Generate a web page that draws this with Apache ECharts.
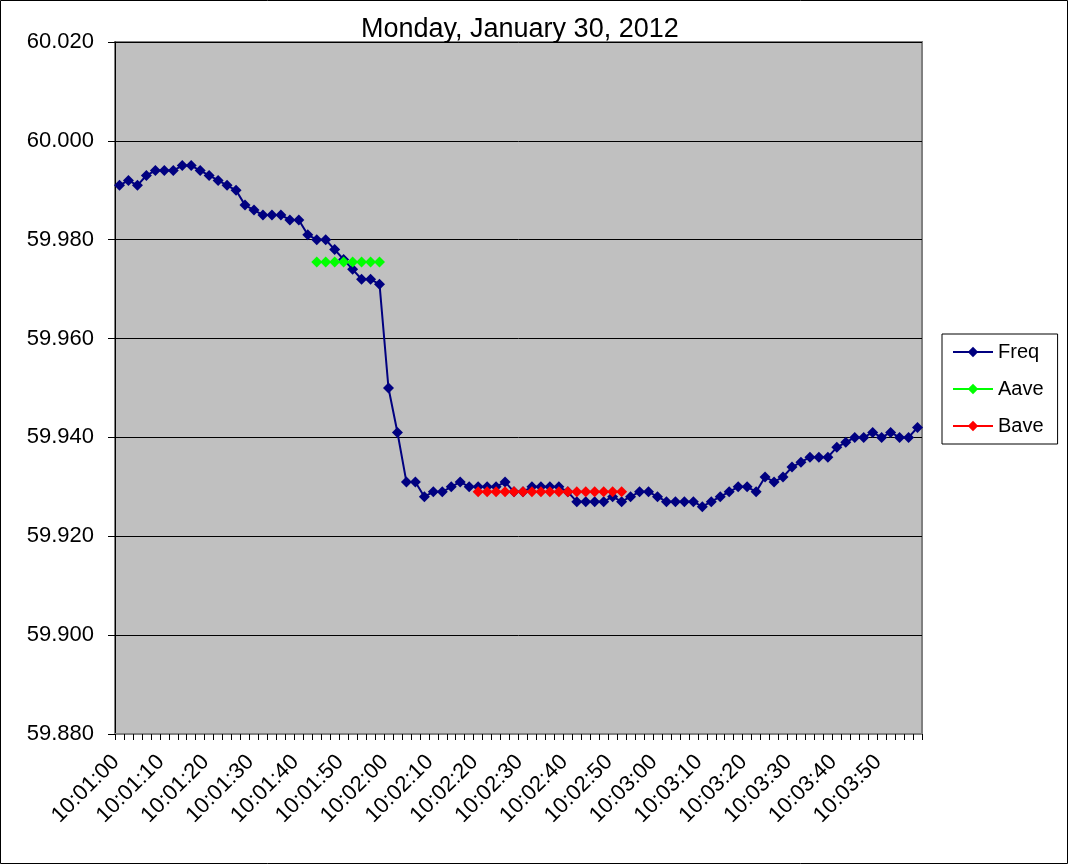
<!DOCTYPE html>
<html>
<head>
<meta charset="utf-8">
<script src="https://cdn.jsdelivr.net/npm/echarts@6/dist/echarts.min.js"></script>
<style>
html,body{margin:0;padding:0;background:#fff;}
#chart{width:1069px;height:865px;}
</style>
</head>
<body>
<div id="chart"></div>
<script>
// ---- data ----
const titleText = 'Monday, January 30, 2012';
const startTime = '10:01:00';
const stepSeconds = 2;
const pointCount = 90;

const freq = [
  59.991, 59.992, 59.991, 59.993, 59.994, 59.994, 59.994, 59.995, 59.995, 59.994,
  59.993, 59.992, 59.991, 59.990, 59.987, 59.986, 59.985, 59.985, 59.985, 59.984,
  59.984, 59.981, 59.980, 59.980, 59.978, 59.976, 59.974, 59.972, 59.972, 59.971,
  59.950, 59.941, 59.931, 59.931, 59.928, 59.929, 59.929, 59.930, 59.931, 59.930,
  59.930, 59.930, 59.930, 59.931, 59.929, 59.929, 59.930, 59.930, 59.930, 59.930,
  59.929, 59.927, 59.927, 59.927, 59.927, 59.928, 59.927, 59.928, 59.929, 59.929,
  59.928, 59.927, 59.927, 59.927, 59.927, 59.926, 59.927, 59.928, 59.929, 59.930,
  59.930, 59.929, 59.932, 59.931, 59.932, 59.934, 59.935, 59.936, 59.936, 59.936,
  59.938, 59.939, 59.940, 59.940, 59.941, 59.940, 59.941, 59.940, 59.940, 59.942
];
// Aave: indices 22..29
const aaveStart = 22;
const aaveValues = [59.9755, 59.9755, 59.9755, 59.9755, 59.9755, 59.9755, 59.9755, 59.9755];
// Bave: indices 40..56
const baveStart = 40;
const baveValues = [59.929, 59.929, 59.929, 59.929, 59.929, 59.929, 59.929, 59.929, 59.929,
                    59.929, 59.929, 59.929, 59.929, 59.929, 59.929, 59.929, 59.929];

const yMin = 59.88, yMax = 60.02, yStep = 0.02;

// ---- build ----
function buildCategories() {
  const [h, m, s] = startTime.split(':').map(Number);
  const base = h * 3600 + m * 60 + s;
  const out = [];
  for (let i = 0; i < pointCount; i++) {
    const t = base + i * stepSeconds;
    const hh = Math.floor(t / 3600), mm = Math.floor((t % 3600) / 60), ss = t % 60;
    out.push(hh + ':' + String(mm).padStart(2, '0') + ':' + String(ss).padStart(2, '0'));
  }
  return out;
}
const categories = buildCategories();
function place(start, vals) {
  const arr = new Array(pointCount).fill(null);
  vals.forEach((v, i) => { arr[start + i] = v; });
  return arr;
}
const aave = place(aaveStart, aaveValues);
const bave = place(baveStart, baveValues);

const FONT = '"Liberation Sans", Arial, sans-serif';
const chart = echarts.init(document.getElementById('chart'), null, {renderer: 'canvas'});

function lineSeries(name, data, color) {
  return {
    name, type: 'line', data,
    symbol: 'diamond', symbolSize: 11,
    showAllSymbol: true,
    connectNulls: false,
    lineStyle: {color, width: 2},
    itemStyle: {color},
    emphasis: {disabled: true},
    animation: false
  };
}

chart.setOption({
  animation: false,
  backgroundColor: '#ffffff',
  textStyle: {fontFamily: FONT},
  title: {
    text: titleText,
    left: 356, top: 11,
    textStyle: {fontFamily: FONT, fontSize: 27, fontWeight: 'normal', color: '#000'}
  },
  graphic: [{
    type: 'rect', silent: true, z: 100,
    shape: {x: 0.5, y: 0.5, width: 1067, height: 863},
    style: {fill: 'none', stroke: '#000', lineWidth: 1}
  }],
  grid: {
    left: 115, top: 42, right: 147, bottom: 131,
    show: true, backgroundColor: '#C0C0C0', borderColor: '#808080', borderWidth: 2,
    containLabel: false
  },
  legend: {
    orient: 'vertical', left: 942, top: 334,
    data: ['Freq', 'Aave', 'Bave'],
    borderColor: '#000', borderWidth: 1, backgroundColor: '#fff',
    padding: [8, 14, 8, 10],
    itemGap: 17, itemWidth: 40, itemHeight: 13,
    textStyle: {fontFamily: FONT, fontSize: 20, color: '#000'},
    selectedMode: false
  },
  xAxis: {
    type: 'category', data: categories, boundaryGap: true,
    axisLine: {show: true, lineStyle: {color: '#808080', width: 2}},
    axisTick: {show: true, interval: 0, alignWithLabel: false, length: 6, lineStyle: {color: '#000'}},
    axisLabel: {interval: 4, rotate: 45, fontSize: 22, color: '#000', fontFamily: FONT,
      margin: 21, padding: [0, 5, 0, 0]},
    splitLine: {show: false}
  },
  yAxis: {
    type: 'value', min: yMin, max: yMax, interval: yStep,
    axisLine: {show: true, lineStyle: {color: '#000', width: 1}},
    axisTick: {show: true, length: 7, lineStyle: {color: '#000'}},
    axisLabel: {fontSize: 22, color: '#000', fontFamily: FONT, margin: 21,
      formatter: v => v.toFixed(3)},
    splitLine: {show: true, lineStyle: {color: '#000', width: 1}}
  },
  series: [
    lineSeries('Freq', freq, '#000080'),
    lineSeries('Aave', aave, '#00FF00'),
    lineSeries('Bave', bave, '#FF0000')
  ]
});
</script>
</body>
</html>
